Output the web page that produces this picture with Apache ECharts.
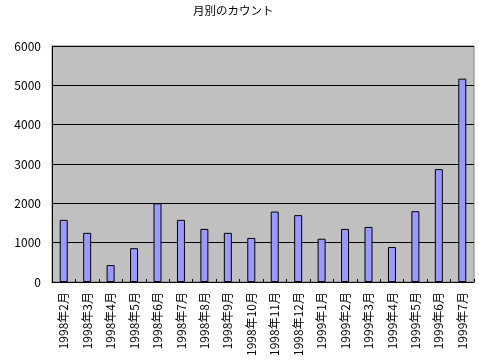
<!DOCTYPE html>
<html><head><meta charset="utf-8">
<script src="https://cdn.jsdelivr.net/npm/echarts@6/dist/echarts.min.js"></script>
<style>html,body{margin:0;padding:0;background:#fff}#c{width:479px;height:364px}</style>
</head><body><div id="c"></div>
<script>
const title = '月別のカウント';
const categories = ['1998年2月','1998年3月','1998年4月','1998年5月','1998年6月','1998年7月','1998年8月','1998年9月','1998年10月','1998年11月','1998年12月','1999年1月','1999年2月','1999年3月','1999年4月','1999年5月','1999年6月','1999年7月'];
const counts = [1580,1250,430,860,2000,1580,1350,1250,1120,1790,1700,1100,1350,1400,890,1800,2870,5170];
const yTicks = [0,1000,2000,3000,4000,5000,6000];

const font = '"Noto Sans CJK JP", sans-serif';
const chart = echarts.init(document.getElementById('c'));
chart.setOption({
  animation: false,
  backgroundColor: '#fff',
  title: { text: title, left: 193, top: 5, padding: 0, textStyle: { fontFamily: font, fontSize: 11.5, fontWeight: 'normal', color: '#000' } },
  grid: { left: 52, right: 5, top: 46, bottom: 82, show: true, backgroundColor: '#c0c0c0', borderColor: '#808080', borderWidth: 1 },
  xAxis: {
    type: 'category', data: categories,
    axisLine: { lineStyle: { color: '#000', width: 1 } },
    axisTick: { show: true, inside: true, length: 3, lineStyle: { color: '#000' } },
    axisLabel: { rotate: 90, interval: 0, fontFamily: font, fontSize: 12, color: '#000', margin: 10 }
  },
  yAxis: {
    type: 'value', min: yTicks[0], max: yTicks[yTicks.length-1], interval: 1000,
    axisLine: { show: true, lineStyle: { color: '#000' } },
    axisTick: { show: false },
    splitLine: { lineStyle: { color: '#000', width: 1 } },
    axisLabel: { fontFamily: font, fontSize: 12, color: '#000', margin: 11, formatter: v => String(v) }
  },
  series: [{
    type: 'bar', data: counts, barWidth: 8,
    itemStyle: { color: '#9999ff', borderColor: '#000', borderWidth: 1 }
  }]
});
</script></body></html>
